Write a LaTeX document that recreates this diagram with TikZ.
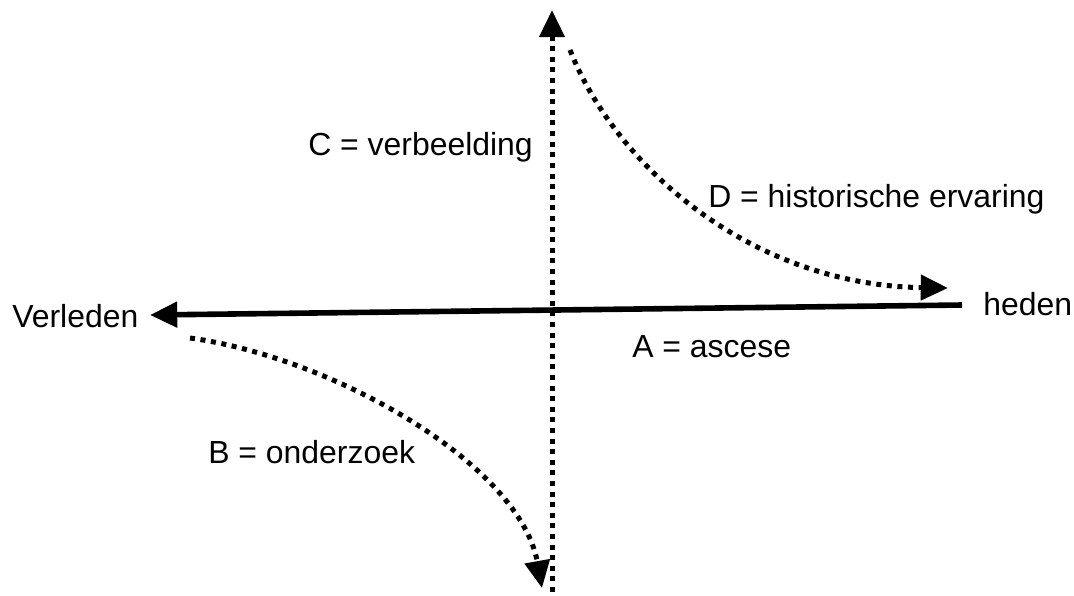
\documentclass[tikz,border=0pt]{standalone}
\usepackage{fontspec}
\setmainfont{Liberation Sans}
\usetikzlibrary{arrows.meta}

\begin{document}
\begin{tikzpicture}[x=0.025cm,y=-0.025cm]
\useasboundingbox (0,0) rectangle (1074,595);
\begin{scope}[every node/.style={anchor=base west,inner sep=0pt,
              font=\fontsize{22.7pt}{27pt}\selectfont}]
    \node (verleden) at (12,327) {Verleden};
    \node (heden) at (983,315) {heden};
    \node (ascese) at (632,357) {A = ascese};
    \node (onderzoek) at (208,463) {B = onderzoek};
    \node (verbeelding) at (308,155) {C = verbeelding};
    \node (ervaring) at (708,207) {D = historische ervaring};
\end{scope}
\coordinate (hr) at (962,305);
\coordinate (hl) at (150,315);
\coordinate (vb) at (552,592);
\coordinate (vt) at (552,10);
\coordinate (ds) at (570,50);
\coordinate (de) at (948,288);
\coordinate (bs) at (190,338);
\coordinate (be) at (542,588);
\begin{scope}[>={Triangle[length=0.68cm,width=0.62cm]},
              solid_edge/.style={draw=black,line width=1.4mm},
              dot_edge/.style={draw=black,line width=1.25mm,
                               dash pattern=on 1.25mm off 1.4mm}]
    \path [->] (hr) edge [solid_edge] (hl);
    \path [->] (vb) edge [dot_edge] (vt);
    \draw [->,dot_edge] (ds) .. controls (615,165) and (750,285) .. (de);
    \draw [->,dot_edge] (bs) .. controls (335,358) and (520,465) .. (be);
\end{scope}
\end{tikzpicture}
\end{document}
